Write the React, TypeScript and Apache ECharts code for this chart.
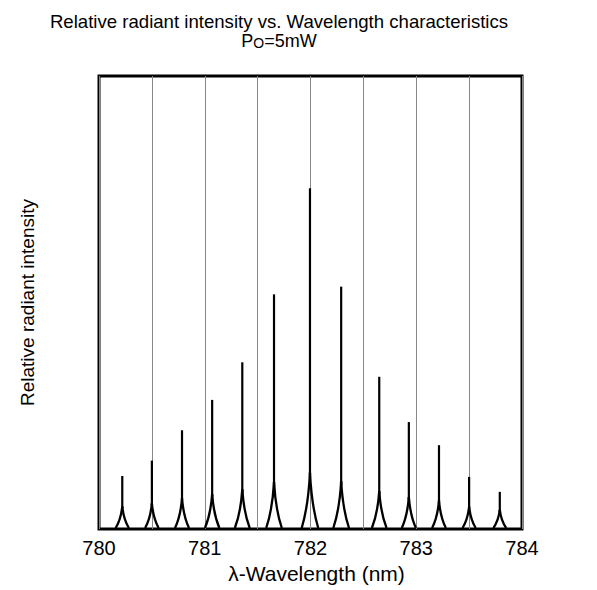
import React, { useEffect, useRef } from "react";
import * as echarts from "echarts";

// Peak wavelengths (nm) and relative radiant intensity (% of axis height)
const wavelengths = [780.22, 780.5, 780.785, 781.07, 781.355, 781.655, 781.995, 782.29, 782.65, 782.93, 783.215, 783.5, 783.79];
const intensities = [11.7, 15.1, 21.8, 28.5, 36.8, 51.8, 75.2, 53.5, 33.6, 23.6, 18.5, 11.5, 8.2];
const xTickLabels = ["780", "781", "782", "783", "784"];

const FONT = "'Liberation Sans', Arial, Helvetica, sans-serif";

export default function App() {
  const ref = useRef<HTMLDivElement>(null);
  useEffect(() => {
    if (!ref.current) return;
    const chart = echarts.init(ref.current, null, { renderer: "svg" });
    const data = wavelengths.map((w, i) => [w, intensities[i]]);
    chart.setOption({
      animation: false,
      backgroundColor: "#fff",
      graphic: [
        {
          type: "text",
          x: 279,
          y: 12,
          style: {
            text: "Relative radiant intensity vs. Wavelength characteristics",
            fontSize: 18.6,
            fontFamily: FONT,
            fill: "#000",
            textAlign: "center",
            textVerticalAlign: "top",
          },
        },
        {
          type: "text",
          x: 279,
          y: 32,
          style: {
            text: "P{s|O}=5mW",
            fontSize: 18,
            fontFamily: FONT,
            fill: "#000",
            textAlign: "center",
            textVerticalAlign: "top",
            rich: { s: { fontSize: 14, fontFamily: FONT, fill: "#000", verticalAlign: "bottom" } },
          },
        },
      ],
      grid: {
        left: 99,
        right: 75,
        top: 76,
        bottom: 61,
        show: true,
        borderColor: "#000",
        borderWidth: 3,
        backgroundColor: "transparent",
      },
      xAxis: {
        type: "value",
        min: 780,
        max: 784,
        interval: 0.5,
        name: "λ-Wavelength (nm)",
        nameLocation: "middle",
        nameGap: 21,
        nameTextStyle: { fontSize: 21, fontFamily: FONT, color: "#000", padding: [0, 0, 0, 12] },
        axisLine: { show: false },
        axisTick: { show: false },
        axisLabel: {
          fontSize: 20,
          fontFamily: FONT,
          color: "#000",
          margin: 9,
          formatter: (v: number) => {
            const s = String(Math.round(v));
            return Math.abs(v - Math.round(v)) < 1e-6 && xTickLabels.includes(s) ? s : "";
          },
        },
        splitLine: { show: true, lineStyle: { color: "#888", width: 1 } },
      },
      yAxis: {
        type: "value",
        min: 0,
        max: 100,
        name: "Relative radiant intensity",
        nameLocation: "middle",
        nameGap: 62,
        nameTextStyle: { fontSize: 19, fontFamily: FONT, color: "#000" },
        axisLine: { show: false },
        axisTick: { show: false },
        axisLabel: { show: false },
        splitLine: { show: false },
      },
      series: [
        {
          type: "custom",
          data,
          clip: false,
          renderItem: (params: any, api: any) => {
            const x = api.value(0);
            const h = api.value(1);
            const base = api.coord([x, 0]);
            const top = api.coord([x, h]);
            const cx = base[0];
            const by = base[1] - 1;
            const ty = top[1];
            const ph = by - ty;
            const fh = 3.0 * Math.sqrt(ph);
            const hw = 5.5 + 0.15 * Math.sqrt(ph);
            const st = { stroke: "#000", lineWidth: 2.3, fill: null };
            const side = (d: number) => ({
              type: "bezierCurve",
              shape: {
                x1: cx + d * hw,
                y1: by,
                cpx1: cx + d * hw * 0.5,
                cpy1: by - fh * 0.25,
                cpx2: cx + d * hw * 0.12,
                cpy2: by - fh * 0.65,
                x2: cx,
                y2: by - fh,
              },
              style: st,
            });
            return {
              type: "group",
              children: [
                { type: "line", shape: { x1: cx, y1: by - fh * 0.9, x2: cx, y2: ty }, style: { stroke: "#000", lineWidth: 2.2 } },
                side(-1),
                side(1),
              ],
            };
          },
        },
      ],
    });
    return () => chart.dispose();
  }, []);
  return <div ref={ref} style={{ position: "fixed", left: 0, top: 0, width: 597, height: 590 }} />;
}
